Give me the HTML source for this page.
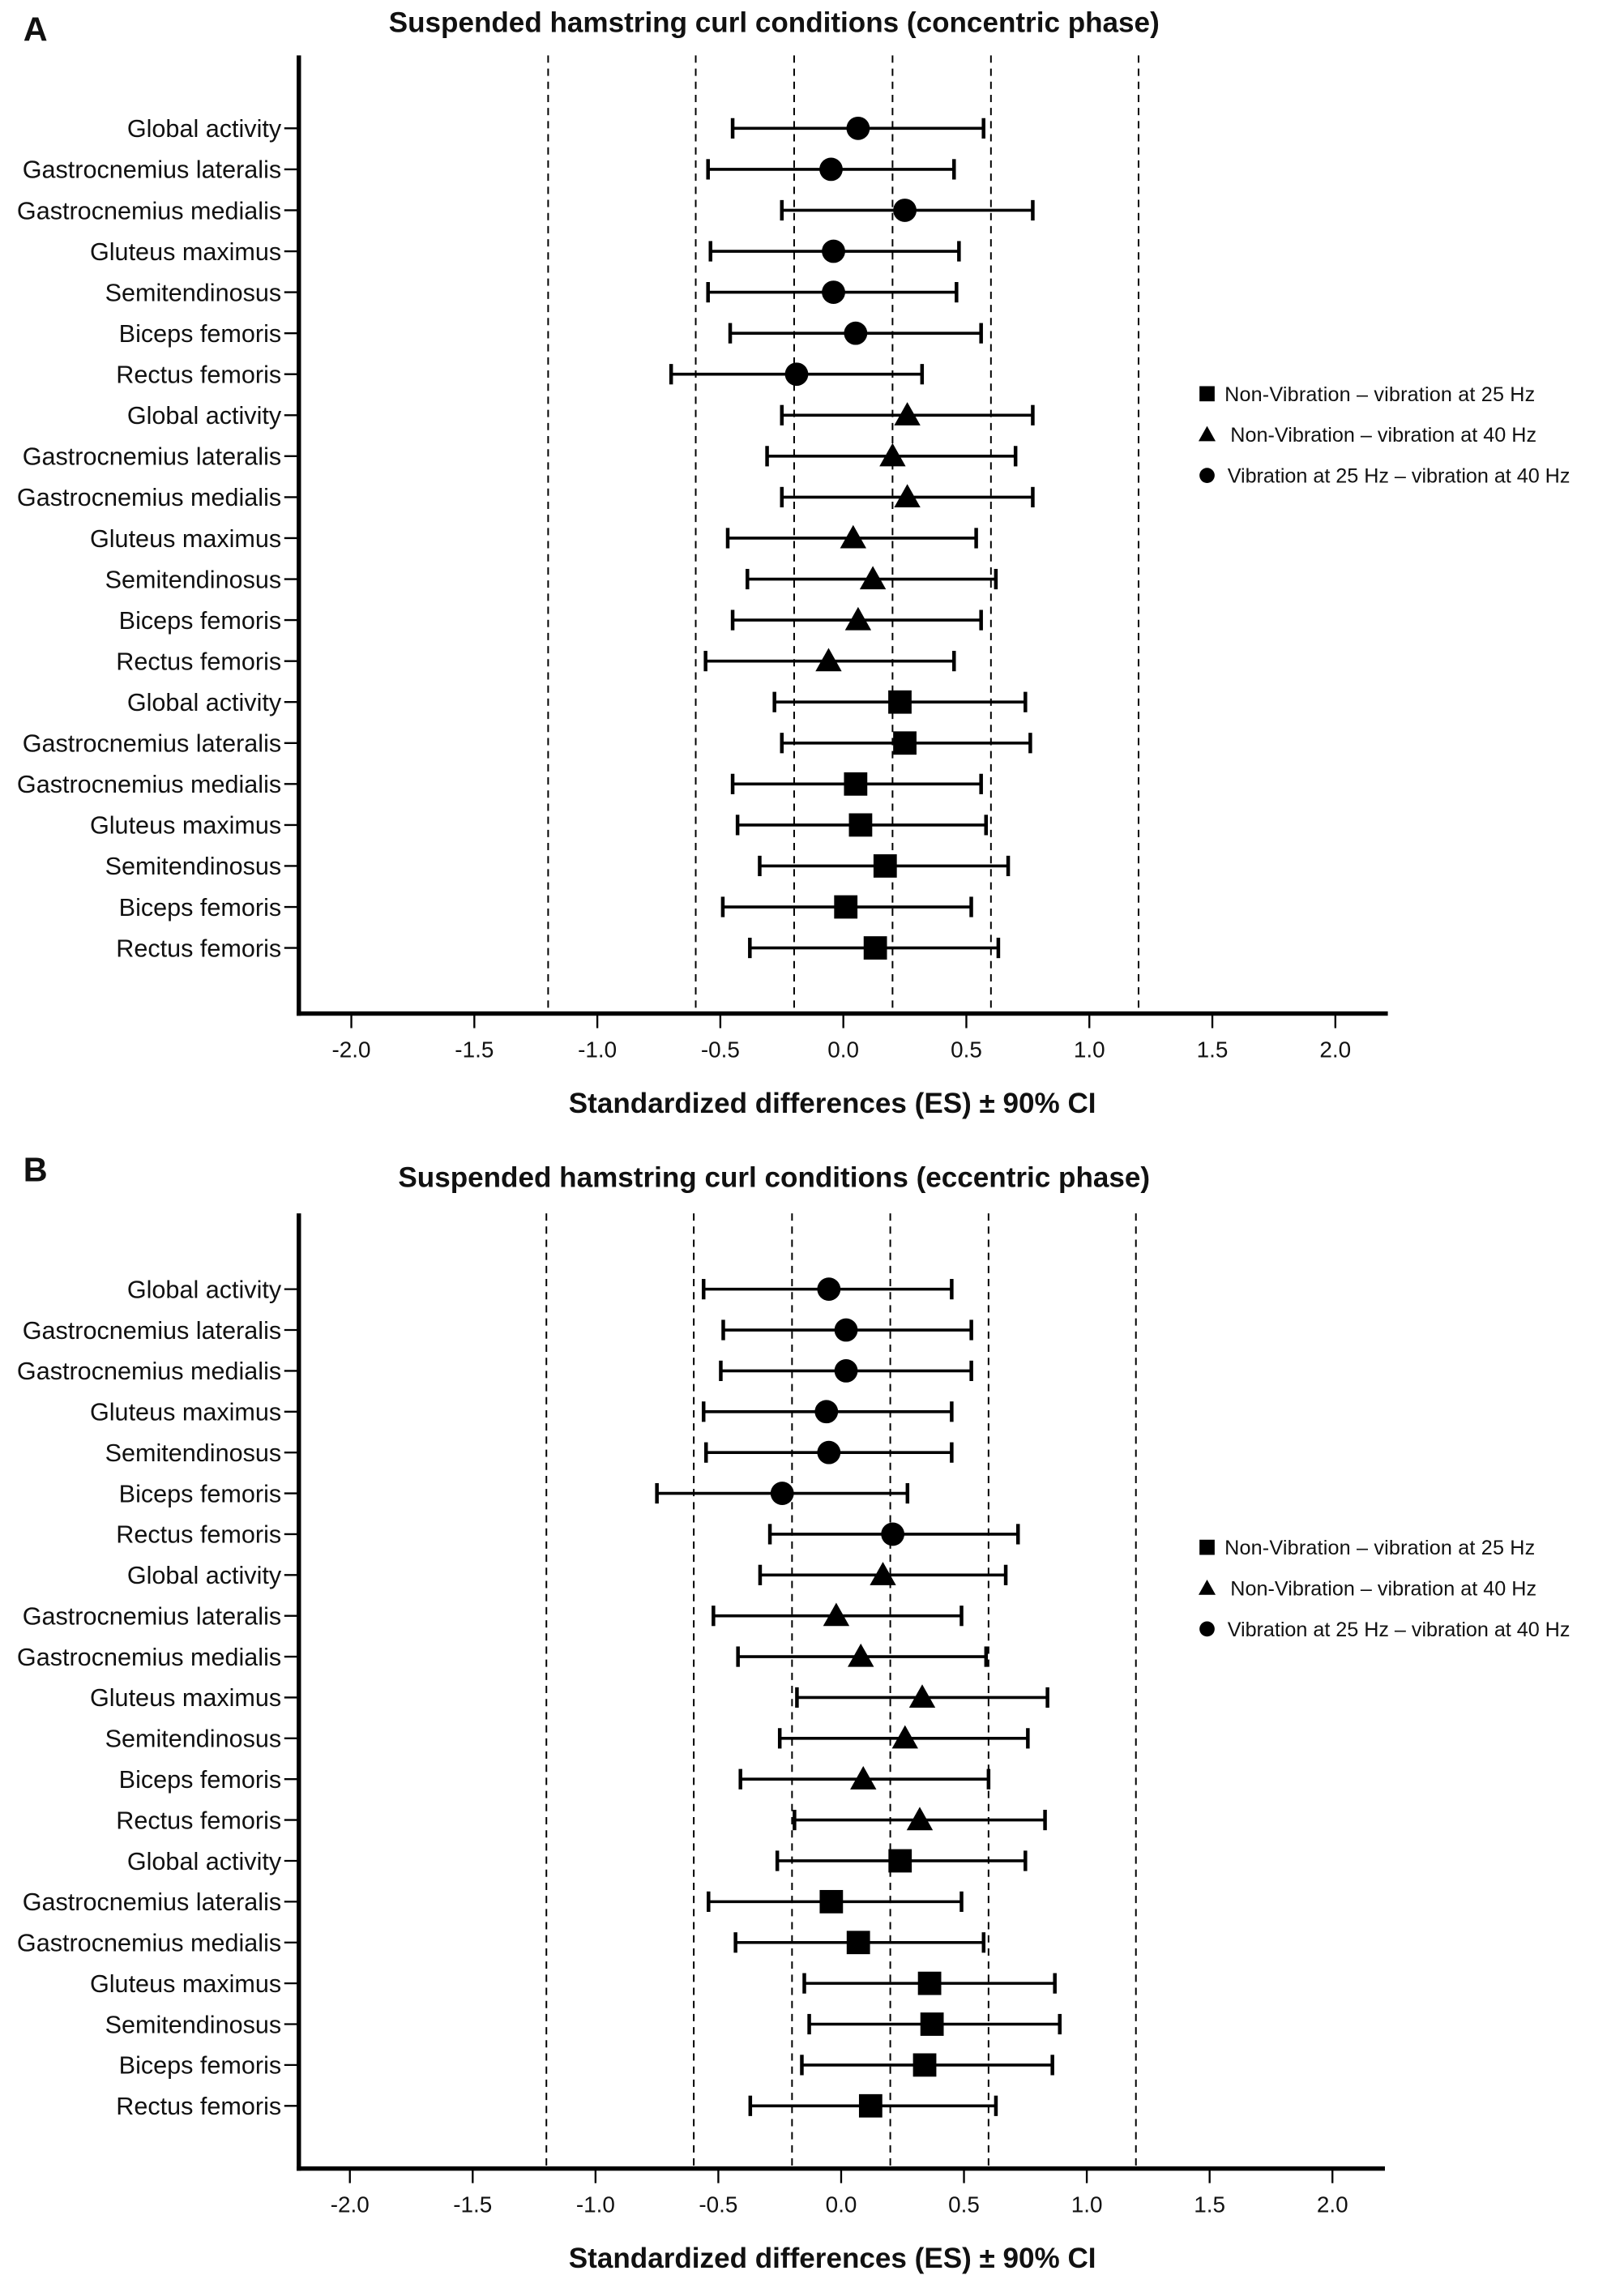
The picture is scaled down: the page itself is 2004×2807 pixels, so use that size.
<!DOCTYPE html>
<html><head><meta charset="utf-8"><style>
html,body{margin:0;padding:0;background:#fff;}
svg{display:block;}
text{font-family:"Liberation Sans",sans-serif;fill:#111;}
</style></head><body>
<svg id="chart" width="2004" height="2807" viewBox="0 0 1114 1560" preserveAspectRatio="none" xmlns="http://www.w3.org/2000/svg"></svg>
<script>
const categories = ["Global activity","Gastrocnemius lateralis","Gastrocnemius medialis","Gluteus maximus","Semitendinosus","Biceps femoris","Rectus femoris"];
const groups = ["circle","triangle","square"];
const tickLabels = ["-2.0","-1.5","-1.0","-0.5","0.0","0.5","1.0","1.5","2.0"];
const tickValues = [-2,-1.5,-1,-0.5,0,0.5,1,1.5,2];
const thresholds = [-1.2,-0.6,-0.2,0.2,0.6,1.2];
const legendLabels = ["Non-Vibration \u2013 vibration at 25 Hz","Non-Vibration \u2013 vibration at 40 Hz","Vibration at 25 Hz \u2013 vibration at 40 Hz"];
const legendShapes = ["square","triangle","circle"];
// Panel A (concentric): rows top to bottom
const aES  = [0.06,-0.05,0.25,-0.04,-0.04,0.05,-0.19, 0.26,0.20,0.26,0.04,0.12,0.06,-0.06, 0.23,0.25,0.05,0.07,0.17,0.01,0.13];
const aLow = [-0.45,-0.55,-0.25,-0.54,-0.55,-0.46,-0.70, -0.25,-0.31,-0.25,-0.47,-0.39,-0.45,-0.56, -0.28,-0.25,-0.45,-0.43,-0.34,-0.49,-0.38];
const aHigh= [0.57,0.45,0.77,0.47,0.46,0.56,0.32, 0.77,0.70,0.77,0.54,0.62,0.56,0.45, 0.74,0.76,0.56,0.58,0.67,0.52,0.63];
// Panel B (eccentric)
const bES  = [-0.05,0.02,0.02,-0.06,-0.05,-0.24,0.21, 0.17,-0.02,0.08,0.33,0.26,0.09,0.32, 0.24,-0.04,0.07,0.36,0.37,0.34,0.12];
const bLow = [-0.56,-0.48,-0.49,-0.56,-0.55,-0.75,-0.29, -0.33,-0.52,-0.42,-0.18,-0.25,-0.41,-0.19, -0.26,-0.54,-0.43,-0.15,-0.13,-0.16,-0.37];
const bHigh= [0.45,0.53,0.53,0.45,0.45,0.27,0.72, 0.67,0.49,0.59,0.84,0.76,0.60,0.83, 0.75,0.49,0.58,0.87,0.89,0.86,0.63];

const svg = document.getElementById('chart');
const NS = "http://www.w3.org/2000/svg";
function mk(tag, attrs, parent){const e=document.createElementNS(NS,tag);for(const k in attrs)e.setAttribute(k,attrs[k]);(parent||svg).appendChild(e);return e;}
function marker(shape,cx,cy,s,parent){
  if(shape==="circle") return mk('circle',{cx:cx,cy:cy,r:8*s,fill:'#000'},parent);
  if(shape==="square") return mk('rect',{x:cx-8*s,y:cy-8*s,width:16*s,height:16*s,fill:'#000'},parent);
  return mk('polygon',{points:`${cx},${cy-9*s} ${cx+9*s},${cy+7*s} ${cx-9*s},${cy+7*s}`,fill:'#000'},parent);
}
function panel(cfg){
  const g = mk('g',{});
  
  
  const x = v => cfg.x0 + v*cfg.unit;
  const y = i => cfg.row0 + i*cfg.rowStep;
  let t = mk('text',{x:16,y:cfg.letterY,'font-size':23,'font-weight':'bold'},g); t.textContent=cfg.letter;
   
  t = mk('text',{x:531,y:cfg.titleY,'font-size':19.5,'font-weight':'bold','text-anchor':'middle'},g); t.textContent=cfg.title;
   
  thresholds.forEach(v=>{
    const l = mk('line',{x1:x(v),x2:x(v),y1:cfg.top,y2:cfg.axisY,stroke:'#000','stroke-width':1.1,'stroke-dasharray':'5,4'},g);
     
  });
  let l = mk('line',{x1:cfg.axisX,x2:cfg.axisX,y1:cfg.top,y2:cfg.axisY+1.5,stroke:'#000','stroke-width':3},g);
   
  l = mk('line',{x1:cfg.axisX-1.5,x2:cfg.axisEnd,y1:cfg.axisY,y2:cfg.axisY,stroke:'#000','stroke-width':3},g);
   
  tickValues.forEach((v,i)=>{
    mk('line',{x1:x(v),x2:x(v),y1:cfg.axisY,y2:cfg.axisY+10,stroke:'#000','stroke-width':1.3},g);
    const tt = mk('text',{x:x(v),y:cfg.axisY+30,'font-size':15.5,'text-anchor':'middle'},g); tt.textContent=tickLabels[i];
     
  });
  t = mk('text',{x:571,y:cfg.axisY+68,'font-size':19.5,'font-weight':'bold','text-anchor':'middle'},g); t.textContent="Standardized differences (ES) \u00b1 90% CI";
   
  for(let i=0;i<21;i++){
    const yy=y(i);
    mk('line',{x1:cfg.axisX-10,x2:cfg.axisX,y1:yy,y2:yy,stroke:'#000','stroke-width':1.3},g);
    const lab = mk('text',{x:cfg.axisX-12,y:yy+6,'font-size':17,'text-anchor':'end'},g); lab.textContent=categories[i%7];
     
    const x1=x(cfg.low[i]), x2=x(cfg.high[i]);
    const ci = mk('line',{x1:x1,x2:x2,y1:yy,y2:yy,stroke:'#000','stroke-width':2},g);
     
    mk('line',{x1:x1,x2:x1,y1:yy-7,y2:yy+7,stroke:'#000','stroke-width':2.5},g);
    mk('line',{x1:x2,x2:x2,y1:yy-7,y2:yy+7,stroke:'#000','stroke-width':2.5},g);
    const m = marker(groups[Math.floor(i/7)], x(cfg.es[i]), yy, 1, g);
     
  }
  legendLabels.forEach((lb,i)=>{
    const ly = cfg.legY + i*28;
    const m = marker(legendShapes[i], 828, ly, 0.65, g);
     
    const tt = mk('text',{x:cfg.legTextX[i],y:ly+5,'font-size':14,'textLength':cfg.legLen[i]},g); tt.textContent=lb;
     
  });
}
panel({name:'panel-a-concentric',letter:'A',letterY:28,title:'Suspended hamstring curl conditions (concentric phase)',titleY:22,
  top:38,axisY:695,axisX:205,axisEnd:952,x0:578.5,unit:168.75,row0:88,rowStep:28.1,
  es:aES,low:aLow,high:aHigh,legY:270,legTextX:[840,844,842],legLen:[213,210,235]});
panel({name:'panel-b-eccentric',letter:'B',letterY:810,title:'Suspended hamstring curl conditions (eccentric phase)',titleY:814,
  top:832,axisY:1487,axisX:205,axisEnd:950,x0:577,unit:168.5,row0:884,rowStep:28,
  es:bES,low:bLow,high:bHigh,legY:1061,legTextX:[840,844,842],legLen:[213,210,235]});
</script>
</body></html>
